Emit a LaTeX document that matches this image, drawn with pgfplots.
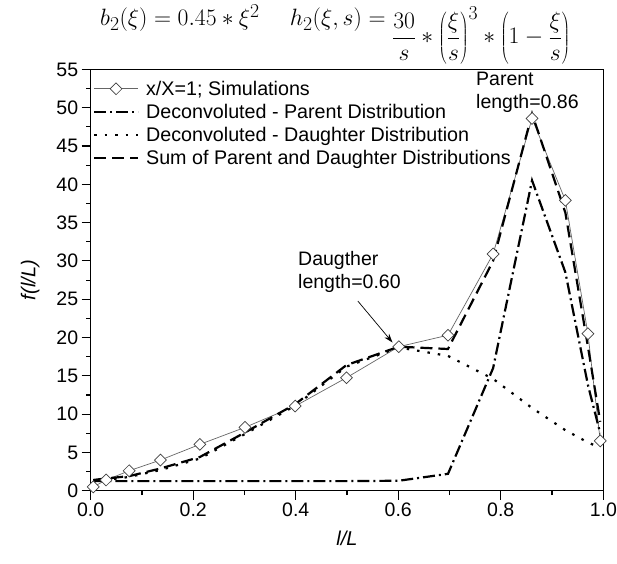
\documentclass[border=0pt]{standalone}
\usepackage{pgfplots}
\pgfplotsset{compat=1.18}
\usepackage{fontspec}
\setmainfont{Liberation Sans}
\usetikzlibrary{arrows.meta}

\pgfplotstableread{
x y
0.005 0.5
0.030 1.4
0.075 2.6
0.136 4.0
0.213 6.05
0.301 8.27
0.399 11.05
0.499 14.75
0.601 18.8
0.697 20.3
0.785 30.9
0.861 48.6
0.926 37.9
0.970 20.5
0.994 6.5
}\simdata

\pgfplotstableread{
x y
0.005 1.25
0.030 1.25
0.075 1.25
0.136 1.25
0.213 1.25
0.301 1.25
0.399 1.25
0.499 1.25
0.601 1.3
0.697 2.2
0.785 16.0
0.861 40.5
0.926 28.5
0.970 13.8
0.994 7.5
}\parentdata

\pgfplotstableread{
x y
0.005 1.2
0.030 1.4
0.075 1.8
0.136 2.7
0.213 4.2
0.301 7.4
0.399 11.1
0.499 16.2
0.601 18.7
0.697 17.6
0.785 14.6
0.861 10.8
0.926 7.9
0.970 6.3
0.994 5.6
}\daughterdata

\pgfplotstableread{
x y
0.005 1.4
0.030 1.6
0.075 1.9
0.136 2.9
0.213 4.4
0.301 7.6
0.399 11.3
0.499 16.4
0.601 18.8
0.697 18.5
0.785 30.0
0.861 49.2
0.926 36.3
0.970 18.8
0.994 9.0
}\sumdata

\begin{document}
\begin{tikzpicture}
\path[use as bounding box] (-90.7pt,-72.3pt) rectangle (526.3pt,490.7pt);
\begin{axis}[
  at={(0pt,0pt)}, anchor=south west,
  scale only axis, width=512.6pt, height=421.3pt,
  xmin=0, xmax=1, ymin=0, ymax=55,
  xtick={0,0.2,0.4,0.6,0.8,1},
  ytick={0,5,10,15,20,25,30,35,40,45,50,55},
  minor x tick num=1, minor y tick num=1,
  tick align=outside, tick pos=left,
  major tick length=9pt, minor tick length=4.5pt,
  axis line style={line width=1.3pt},
  every tick/.style={line width=1.1pt, black},
  xticklabel style={/pgf/number format/.cd, fixed, fixed zerofill, precision=1},
  /pgf/number format/assume math mode=true,
  tick label style={font=\fontsize{19.5}{22}\selectfont},
  every axis y label/.style={at={(axis description cs:-0.118,0.5)}, rotate=90, anchor=center},
  every axis x label/.style={at={(axis description cs:0.5,-0.112)}, anchor=center},
  ylabel={\fontsize{20}{24}\selectfont\itshape f(l/L)},
  xlabel={\fontsize{20}{24}\selectfont\itshape l/L},
  legend style={draw=none, fill=none, at={(axis description cs:0.004,0.978)}, anchor=north west,
    font=\fontsize{19.7}{22}\selectfont, row sep=3.2pt, column sep=5pt, inner sep=0pt, cells={anchor=west}},
  legend image code/.code={\draw[mark repeat=2,mark phase=2,#1] plot coordinates {(0pt,0pt) (22pt,0pt) (44pt,0pt)};},
]
\addplot[color=black!60, line width=0.7pt, mark=square*, mark size=4.2pt,
  mark options={rotate=45, fill=white, draw=black!75, line width=0.7pt, solid}]
  table[x=x,y=y]{\simdata};
\addlegendentry{x/X=1; Simulations}
\addplot[black, line width=2.2pt, dash pattern=on 12pt off 4pt on 2pt off 4pt]
  table[x=x,y=y]{\parentdata};
\addlegendentry{Deconvoluted - Parent Distribution}
\addplot[black, line width=2.2pt, dash pattern=on 2.5pt off 8pt]
  table[x=x,y=y]{\daughterdata};
\addlegendentry{Deconvoluted - Daughter Distribution}
\addplot[black, line width=2.2pt, dash pattern=on 12pt off 6pt]
  table[x=x,y=y]{\sumdata};
\addlegendentry{Sum of Parent and Daughter Distributions}
\end{axis}
\node[anchor=north west, align=left, inner sep=0pt, font=\fontsize{19.5}{23}\selectfont] at (207.3pt,239.7pt) {Daugther\\length=0.60};
\node[anchor=north west, align=left, inner sep=0pt, font=\fontsize{19.5}{23}\selectfont] at (385.3pt,418.7pt) {Parent\\length=0.86};
\draw[-{Stealth[length=9pt,width=6pt]}, line width=0.7pt] (267.1pt,189.7pt) -- (301.8pt,148.2pt);
\node[anchor=base west, inner sep=0pt, scale=0.95] at (9.3pt,446.7pt) {\fontsize{24.88}{28}\selectfont\raisebox{19pt}{$b_2(\xi)=0.45*\xi^2$}\quad\;\raisebox{19pt}{$h_2(\xi,s)={}$}$\displaystyle\frac{30}{s}*\left(\frac{\xi}{s}\right)^{3}*\left(1-\frac{\xi}{s}\right)$};
\end{tikzpicture}
\end{document}
